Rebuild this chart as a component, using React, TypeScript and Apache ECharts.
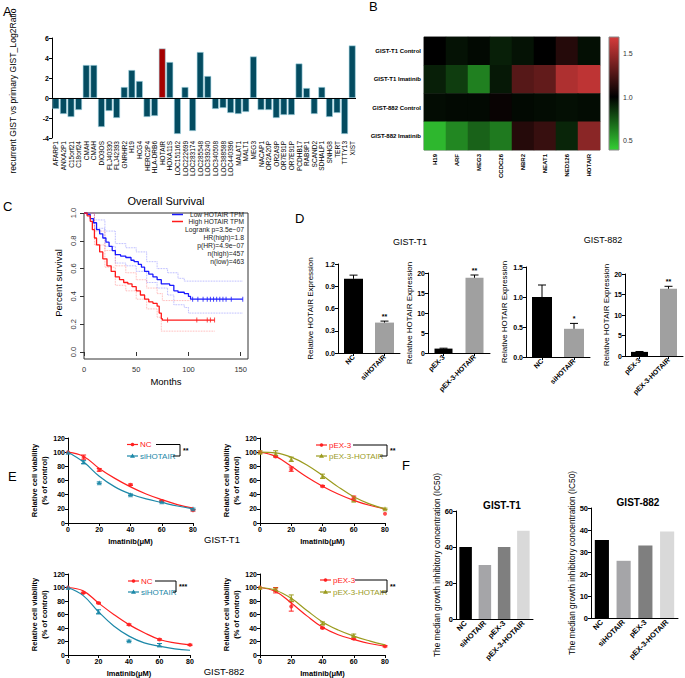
import React, { useEffect, useRef } from 'react';
import * as echarts from 'echarts';

const FONT = '"Liberation Sans", Arial, sans-serif';

// ---------- Panel A ----------
const aGenes = ['AFARP1','ANXA2P1','C15orf21','C18orf24','CMAH','CMAH','DIO3OS','FLJ40330','FLJ42393','GNRHR2','H19','HCG4','HERC2P4','HLA-DRB6','HOTAIR','HOXA11S','LOC151162','LOC222699','LOC283174','LOC285548','LOC339240','LOC340508','LOC388588','LOC440396','MALAT1','MALT1','MEG3','NACAP1','OR2A20P','OR2A9P','OR7E91P','OR7E91P','PCDHB17','RAB9P1','SCAND2','SDHALP1','SNHG8','TERT','TTTY13','XIST'];
const aLog2Ratio = [-1.1,-1.6,-1.9,-1.2,3.3,3.3,-2.9,-1.3,-2.0,1.1,2.8,1.7,-1.9,-1.8,4.95,3.6,-3.6,1.1,-3.3,4.6,2.2,-1.1,-1.0,-1.5,-1.6,-1.4,4.15,-1.2,-1.2,-2.0,-1.7,-1.7,3.45,1.0,-1.6,1.1,-1.9,-1.5,-3.6,5.25];
const aHighlight = 'HOTAIR';

// ---------- Panel B ----------
const bRows = ['GIST-T1 Control','GIST-T1 Imatinib','GIST-882 Control','GIST-882 Imatinib'];
const bCols = ['H19','ARF','MEG3','CCDC26','NBR2','NEAT1','NED126','HOTAIR'];
const bT1Control = [1.0, 0.94, 0.97, 0.9, 0.94, 1.0, 1.12, 0.95];
const bT1Imatinib = [0.9, 0.8, 0.58, 0.92, 1.28, 1.32, 1.57, 1.62];
const b882Control = [0.96, 0.97, 0.97, 1.03, 0.97, 0.96, 0.95, 0.96];
const b882Imatinib = [0.4, 0.56, 0.68, 0.6, 1.12, 1.18, 0.88, 1.45];
const bScaleTicks = ['1.5', '1.0', '0.5'];

// ---------- Panel C ----------
const cLowCurve = [[0,1],[3,0.99],[6,0.96],[9,0.93],[12,0.88],[15,0.85],[18,0.82],[21,0.79],[24,0.76],[27,0.73],[30,0.70],[35,0.69],[40,0.68],[45,0.66],[48,0.65],[52,0.63],[55,0.61],[58,0.58],[62,0.56],[66,0.54],[70,0.52],[74,0.49],[82,0.48],[86,0.44],[90,0.43],[96,0.42],[100,0.40],[102,0.38],[152,0.38]];
const cHighCurve = [[0,1],[3,0.98],[6,0.94],[8,0.88],[10,0.82],[12,0.77],[15,0.72],[18,0.67],[22,0.62],[26,0.58],[30,0.54],[34,0.52],[38,0.50],[42,0.49],[46,0.47],[50,0.44],[54,0.41],[58,0.38],[62,0.36],[66,0.35],[70,0.33],[72,0.28],[74,0.24],[75,0.23],[125,0.23]];
const cLowUpper = [[0,1],[10,0.95],[20,0.87],[30,0.78],[40,0.75],[50,0.72],[60,0.65],[70,0.60],[80,0.57],[90,0.53],[96,0.51],[152,0.51]];
const cLowLower = [[0,1],[10,0.89],[20,0.76],[30,0.64],[40,0.62],[50,0.58],[60,0.50],[70,0.46],[80,0.41],[86,0.34],[96,0.32],[100,0.28],[152,0.28]];
const cHighUpper = [[0,1],[10,0.87],[20,0.73],[30,0.62],[40,0.57],[50,0.52],[60,0.46],[70,0.42],[75,0.37],[102,0.37]];
const cHighLower = [[0,1],[10,0.77],[20,0.61],[30,0.48],[40,0.44],[50,0.38],[60,0.31],[70,0.25],[74,0.15],[125,0.15]];
const cLowCensor = [[104,0.38],[109,0.38],[114,0.38],[118,0.38],[121,0.38],[124,0.38],[127,0.38],[130,0.38],[133,0.38],[136,0.38],[141,0.38],[152,0.38]];
const cHighCensor = [[80,0.23],[108,0.23],[118,0.23],[121,0.23],[125,0.23]];
const cLegend = ['Low HOTAIR TPM', 'High HOTAIR TPM'];
const cStats = ['Logrank p=3.5e\u221207','HR(high)=1.8','p(HR)=4.9e\u221207','n(high)=457','n(low)=463'];

// ---------- Panel D ----------
const dT1KdNames = ['NC','siHOTAIR'];
const dT1KdMean = [1.0, 0.41];
const dT1KdErr = [0.05, 0.02];
const dT1KdStars = ['', '**'];
const dT1OeNames = ['pEX-3','pEX-3-HOTAIR'];
const dT1OeMean = [1.1, 18.8];
const dT1OeErr = [0.1, 0.7];
const dT1OeStars = ['', '**'];
const d882KdNames = ['NC','siHOTAIR'];
const d882KdMean = [1.0, 0.47];
const d882KdErr = [0.2, 0.09];
const d882KdStars = ['', '*'];
const d882OeNames = ['pEX-3','pEX-3-HOTAIR'];
const d882OeMean = [1.0, 16.4];
const d882OeErr = [0.1, 0.6];
const d882OeStars = ['', '**'];

// ---------- Panel E ----------
const eDoses = [0, 10, 20, 40, 60, 80];
const eCurveX = [0, 10, 20, 30, 40, 50, 60, 70, 80];
const e1NcMean = [100, 93, 75, 54, 31, 18];
const e1NcErr = [0, 3, 2, 1, 1, 1];
const e1SiMean = [100, 86, 57, 40, 30, 20];
const e1SiErr = [0, 2, 1, 1, 1, 1];
const e1NcCurve = [100, 94, 77, 63, 51, 41, 33, 26, 21];
const e1SiCurve = [100, 86, 66, 51, 41, 34, 29, 24, 20];
const e2PexMean = [100, 94, 76, 52, 36, 13];
const e2PexErr = [0, 1, 3, 1, 2, 0];
const e2HotMean = [100, 98, 90, 66, 32, 20];
const e2HotErr = [2, 4, 3, 3, 1, 1];
const e2PexCurve = [100, 94, 80, 65, 52, 41, 32, 25, 20];
const e2HotCurve = [100, 99, 93, 82, 67, 51, 37, 27, 20];
const e3NcMean = [100, 92, 77, 45, 23, 15];
const e3NcErr = [0, 1, 1, 1, 1, 1];
const e3SiDoses = [0, 20, 40, 60];
const e3SiMean = [100, 64, 21, 15];
const e3SiErr = [0, 3, 1, 2];
const e3NcCurve = [100, 95, 77, 60, 45, 33, 23, 18, 15];
const e3SiCurve = [100, 88, 64, 43, 28, 18, 13, 9, 7];
const e4PexMean = [100, 96, 72, 40, 24, 13];
const e4PexErr = [0, 4, 7, 1, 1, 1];
const e4HotDoses = [0, 10, 20, 40, 60];
const e4HotMean = [100, 97, 84, 47, 29];
const e4HotErr = [0, 2, 5, 2, 2];
const e4PexCurve = [100, 94, 77, 58, 41, 30, 23, 17, 13];
const e4HotCurve = [100, 96, 84, 66, 49, 37, 28, 21, 15];

// ---------- Panel F ----------
const fGroups = ['NC','siHOTAIR','pEX-3','pEX-3-HOTAIR'];
const fT1IC50 = [40, 30, 40, 49];
const f882IC50 = [35.5, 26, 33, 39.3];

const RED = '#ff2020';
const TEAL = '#1c88a8';
const OLIVE = '#9b9b1e';
const fColors = ['#000000', '#a5a5a8', '#7f7f7f', '#d9d9d9'];
const dColors = ['#000000', '#a0a0a0'];

function zip(xs: number[], ys: number[]) { return xs.map((x, i) => [x, ys[i]]); }

function valAxis(grid: number, min: number, max: number, interval: number, extra: any = {}) {
  const { axisLabel, ...rest } = extra;
  return {
    type: 'value', gridIndex: grid, min, max, interval,
    axisLine: { show: true, onZero: false, lineStyle: { color: '#000', width: 1 } },
    axisTick: { show: true, length: 3, lineStyle: { color: '#000', width: 1 } },
    axisLabel: { fontSize: 7, fontWeight: 'bold', color: '#000', fontFamily: FONT, margin: 3, ...(axisLabel || {}) },
    splitLine: { show: false },
    ...rest,
  };
}
function catAxis(grid: number, data: string[], extra: any = {}) {
  const { axisLabel, ...rest } = extra;
  return {
    type: 'category', gridIndex: grid, data,
    axisLine: { show: true, onZero: false, lineStyle: { color: '#000', width: 1 } },
    axisTick: { show: false },
    axisLabel: { fontSize: 7, fontWeight: 'bold', color: '#000', fontFamily: FONT, margin: 3, interval: 0, rotate: 45, ...(axisLabel || {}) },
    splitLine: { show: false },
    ...rest,
  };
}

function txt(x: number, y: number, text: string, o: any = {}) {
  return {
    type: 'text', x, y, rotation: o.rotation || 0, silent: true,
    style: {
      text, fill: o.color || '#000', fontSize: o.size || 8, fontWeight: o.weight || 'normal',
      fontFamily: FONT, align: o.align || 'center', verticalAlign: o.valign || 'middle',
    },
  };
}
function ln(x1: number, y1: number, x2: number, y2: number, color = '#000', width = 1) {
  return { type: 'line', silent: true, shape: { x1, y1, x2, y2 }, style: { stroke: color, lineWidth: width } };
}

function barErrRender(stars: string[]) {
  return (params: any, api: any) => {
    const i = api.value(0), v = api.value(1), e = api.value(2);
    const b = api.coord([i, v]);
    const t = api.coord([i, v + e]);
    const children: any[] = [
      { type: 'line', shape: { x1: b[0], y1: b[1], x2: t[0], y2: t[1] }, style: { stroke: '#000', lineWidth: 1 } },
      { type: 'line', shape: { x1: t[0] - 4, y1: t[1], x2: t[0] + 4, y2: t[1] }, style: { stroke: '#000', lineWidth: 1 } },
    ];
    const s = stars[params.dataIndex];
    if (s) children.push({ type: 'text', x: t[0], y: t[1] - 1, style: { text: s, fontSize: 7, fontWeight: 'bold', fill: '#000', align: 'center', verticalAlign: 'bottom', fontFamily: FONT } });
    return { type: 'group', children };
  };
}
function ptErrRender(color: string) {
  return (params: any, api: any) => {
    const x = api.value(0), m = api.value(1), e = api.value(2);
    if (!e) return { type: 'group', children: [] };
    const lo = api.coord([x, m - e]);
    const hi = api.coord([x, m + e]);
    return {
      type: 'group', children: [
        { type: 'line', shape: { x1: lo[0], y1: lo[1], x2: hi[0], y2: hi[1] }, style: { stroke: color, lineWidth: 1 } },
        { type: 'line', shape: { x1: lo[0] - 2.5, y1: lo[1], x2: lo[0] + 2.5, y2: lo[1] }, style: { stroke: color, lineWidth: 1 } },
        { type: 'line', shape: { x1: hi[0] - 2.5, y1: hi[1], x2: hi[0] + 2.5, y2: hi[1] }, style: { stroke: color, lineWidth: 1 } },
      ],
    };
  };
}

function buildOption() {
  const grid: any[] = [];
  const xAxis: any[] = [];
  const yAxis: any[] = [];
  const series: any[] = [];
  const graphic: any[] = [];

  // ===== A =====
  grid.push({ left: 52, top: 38, width: 304, height: 100 });
  xAxis.push(catAxis(0, aGenes, { axisLine: { show: false }, axisLabel: { rotate: 90, fontSize: 6.5, fontWeight: 'normal', margin: 3 } }));
  yAxis.push(valAxis(0, -4, 6, 2, { axisLabel: { fontSize: 7 } }));
  series.push({
    type: 'bar', xAxisIndex: 0, yAxisIndex: 0, barCategoryGap: '10%',
    data: aLog2Ratio.map((v, i) => ({ value: v, itemStyle: { color: aGenes[i] === aHighlight ? '#a50000' : '#044c61' } })),
    itemStyle: { borderColor: '#a6d6e6', borderWidth: 0.6 },
    markLine: { silent: true, symbol: 'none', label: { show: false }, lineStyle: { color: '#000', width: 1, type: 'solid' }, data: [{ yAxis: 0 }] },
  });
  graphic.push(txt(13, 91, 'recurrent GIST vs primary GIST_Log2Ratio', { size: 8.6, rotation: Math.PI / 2 }));
  graphic.push(txt(3, 11, 'A', { size: 13, align: 'left' }));

  // ===== B =====
  grid.push({ left: 424, top: 37, width: 176, height: 113 });
  xAxis.push(catAxis(1, bCols, { axisLine: { show: false }, axisLabel: { rotate: 90, fontSize: 6, margin: 4 } }));
  yAxis.push({
    type: 'category', gridIndex: 1, data: bRows, inverse: true,
    axisLine: { show: false }, axisTick: { show: false }, splitLine: { show: false },
    axisLabel: { fontSize: 6, fontWeight: 'bold', color: '#000', fontFamily: FONT, margin: 3 },
  });
  const bAll = [bT1Control, bT1Imatinib, b882Control, b882Imatinib];
  const hmData: any[] = [];
  bAll.forEach((row, r) => row.forEach((v, c) => hmData.push([c, r, v])));
  series.push({ type: 'heatmap', xAxisIndex: 1, yAxisIndex: 1, data: hmData, itemStyle: { borderWidth: 0 } });
  graphic.push({ type: 'rect', silent: true, shape: { x: 424, y: 37, width: 176, height: 113 }, style: { fill: 'none', stroke: '#7a7a7a', lineWidth: 1 } });
  graphic.push({
    type: 'rect', silent: true, shape: { x: 609, y: 37, width: 10, height: 113 },
    style: {
      stroke: '#888', lineWidth: 1,
      fill: { type: 'linear', x: 0, y: 0, x2: 0, y2: 1, colorStops: [{ offset: 0, color: '#d63b3b' }, { offset: 0.53, color: '#000' }, { offset: 1, color: '#34d034' }] },
    },
  });
  [53, 97, 140].forEach((y, i) => graphic.push(txt(623, y, bScaleTicks[i], { size: 7, align: 'left', color: '#333' })));
  graphic.push(txt(369, 6, 'B', { size: 13, align: 'left' }));

  // ===== C =====
  grid.push({ left: 84, top: 213, width: 164, height: 139 });
  xAxis.push({
    type: 'value', gridIndex: 2, min: 0, max: 157, interval: 50, offset: 7,
    axisLine: { show: false }, splitLine: { show: false },
    axisTick: { show: true, length: 4, lineStyle: { color: '#333' } },
    axisLabel: { fontSize: 7.5, color: '#333', fontFamily: FONT, margin: 6, showMaxLabel: false },
  });
  yAxis.push({
    type: 'value', gridIndex: 2, min: 0, max: 1, interval: 0.2,
    axisLine: { show: false }, splitLine: { show: false },
    axisTick: { show: true, length: 4, lineStyle: { color: '#333' } },
    axisLabel: { fontSize: 7.5, color: '#333', fontFamily: FONT, margin: 7, rotate: 90, formatter: (v: number) => v.toFixed(1) },
  });
  const cLine = (data: number[][], color: string, width: number, type: string) => ({
    type: 'line', xAxisIndex: 2, yAxisIndex: 2, step: 'end', showSymbol: false, data,
    lineStyle: { color, width, type }, silent: true,
  });
  series.push(cLine(cLowUpper, 'rgba(110,110,255,0.7)', 0.8, 'dotted'));
  series.push(cLine(cLowLower, 'rgba(110,110,255,0.7)', 0.8, 'dotted'));
  series.push(cLine(cHighUpper, 'rgba(255,110,110,0.7)', 0.8, 'dotted'));
  series.push(cLine(cHighLower, 'rgba(255,110,110,0.7)', 0.8, 'dotted'));
  series.push(cLine(cLowCurve, '#1a1aff', 1.3, 'solid'));
  series.push(cLine(cHighCurve, '#ff1a1a', 1.3, 'solid'));
  series.push({ type: 'scatter', xAxisIndex: 2, yAxisIndex: 2, data: cLowCensor, symbol: 'rect', symbolSize: [1, 5], itemStyle: { color: '#1a1aff' }, silent: true });
  series.push({ type: 'scatter', xAxisIndex: 2, yAxisIndex: 2, data: cHighCensor, symbol: 'rect', symbolSize: [1, 5], itemStyle: { color: '#ff1a1a' }, silent: true });
  graphic.push({ type: 'rect', silent: true, shape: { x: 84, y: 213, width: 164, height: 146 }, style: { fill: 'none', stroke: '#333', lineWidth: 1 } });
  graphic.push(txt(166, 201, 'Overall Survival', { size: 11 }));
  graphic.push(txt(58, 283, 'Percent survival', { size: 9.5, rotation: Math.PI / 2 }));
  graphic.push(txt(166, 381, 'Months', { size: 9.5 }));
  graphic.push(ln(172, 214.5, 183, 214.5, '#1a1aff', 1.5));
  graphic.push(ln(172, 221.5, 183, 221.5, '#ff1a1a', 1.5));
  graphic.push(txt(244, 214.5, cLegend[0], { size: 6.6, align: 'right', color: '#222' }));
  graphic.push(txt(244, 221.5, cLegend[1], { size: 6.6, align: 'right', color: '#222' }));
  cStats.forEach((s, i) => graphic.push(txt(244, 229.5 + i * 8, s, { size: 6.8, align: 'right', color: '#222' })));
  graphic.push(txt(3, 206, 'C', { size: 13, align: 'left' }));

  // ===== D =====
  const dPanels = [
    { left: 338, top: 264, width: 62, height: 89, max: 1.2, interval: 0.3, names: dT1KdNames, mean: dT1KdMean, err: dT1KdErr, stars: dT1KdStars, bw: 19, gap: 24, dec: 1 },
    { left: 428, top: 273, width: 62, height: 80, max: 20, interval: 5, names: dT1OeNames, mean: dT1OeMean, err: dT1OeErr, stars: dT1OeStars, bw: 18, gap: 11, dec: 0 },
    { left: 526, top: 267, width: 64, height: 90, max: 1.5, interval: 0.5, names: d882KdNames, mean: d882KdMean, err: d882KdErr, stars: d882KdStars, bw: 20, gap: 18, dec: 1 },
    { left: 625, top: 274, width: 58, height: 82, max: 20, interval: 5, names: d882OeNames, mean: d882OeMean, err: d882OeErr, stars: d882OeStars, bw: 17, gap: 11, dec: 0 },
  ];
  dPanels.forEach((p, k) => {
    const g = 3 + k;
    grid.push({ left: p.left, top: p.top, width: p.width, height: p.height });
    xAxis.push(catAxis(g, p.names, { axisTick: { show: true, length: 3, alignWithLabel: true, lineStyle: { color: '#000' } } }));
    yAxis.push(valAxis(g, 0, p.max, p.interval, {
      name: 'Relative HOTAIR Expression', nameLocation: 'middle', nameGap: p.gap,
      nameTextStyle: { fontSize: 8, color: '#000', fontFamily: FONT },
      axisLabel: { formatter: (v: number) => v.toFixed(p.dec) },
    }));
    series.push({
      type: 'bar', xAxisIndex: g, yAxisIndex: g, barWidth: p.bw,
      data: p.mean.map((v, i) => ({ value: v, itemStyle: { color: dColors[i] } })),
    });
    series.push({
      type: 'custom', xAxisIndex: g, yAxisIndex: g, renderItem: barErrRender(p.stars),
      data: p.mean.map((v, i) => [i, v, p.err[i]]), silent: true, z: 5,
    });
  });
  graphic.push(txt(410, 242, 'GIST-T1', { size: 9 }));
  graphic.push(txt(603, 240, 'GIST-882', { size: 9 }));
  graphic.push(txt(295, 218, 'D', { size: 13, align: 'left' }));

  // ===== E =====
  const ePanels = [
    { left: 68, top: 438, width: 125, height: 85, a: { name: 'NC', color: RED, sym: 'circle', doses: eDoses, mean: e1NcMean, err: e1NcErr, curve: e1NcCurve }, b: { name: 'siHOTAIR', color: TEAL, sym: 'triangle', doses: eDoses, mean: e1SiMean, err: e1SiErr, curve: e1SiCurve } },
    { left: 260, top: 438, width: 125, height: 85, a: { name: 'pEX-3', color: RED, sym: 'circle', doses: eDoses, mean: e2PexMean, err: e2PexErr, curve: e2PexCurve }, b: { name: 'pEX-3-HOTAIR', color: OLIVE, sym: 'triangle', doses: eDoses, mean: e2HotMean, err: e2HotErr, curve: e2HotCurve } },
    { left: 68, top: 574, width: 122, height: 83, a: { name: 'NC', color: RED, sym: 'circle', doses: eDoses, mean: e3NcMean, err: e3NcErr, curve: e3NcCurve }, b: { name: 'siHOTAIR', color: TEAL, sym: 'triangle', doses: e3SiDoses, mean: e3SiMean, err: e3SiErr, curve: e3SiCurve } },
    { left: 260, top: 574, width: 125, height: 83, a: { name: 'pEX-3', color: RED, sym: 'circle', doses: eDoses, mean: e4PexMean, err: e4PexErr, curve: e4PexCurve }, b: { name: 'pEX-3-HOTAIR', color: OLIVE, sym: 'triangle', doses: e4HotDoses, mean: e4HotMean, err: e4HotErr, curve: e4HotCurve } },
  ];
  ePanels.forEach((p, k) => {
    const g = 7 + k;
    grid.push({ left: p.left, top: p.top, width: p.width, height: p.height });
    xAxis.push(valAxis(g, 0, 80, 20, {
      name: 'Imatinib(\u03bcM)', nameLocation: 'middle', nameGap: 14,
      nameTextStyle: { fontSize: 7.5, fontWeight: 'bold', color: '#000', fontFamily: FONT },
    }));
    yAxis.push(valAxis(g, 0, 120, 20, {
      name: 'Relative cell viability\n(% of control)', nameLocation: 'middle', nameGap: 18,
      nameTextStyle: { fontSize: 7.5, fontWeight: 'bold', color: '#000', fontFamily: FONT, lineHeight: 10 },
    }));
    [p.a, p.b].forEach((s) => {
      series.push({ type: 'line', xAxisIndex: g, yAxisIndex: g, smooth: 0.4, showSymbol: false, data: zip(eCurveX, s.curve), lineStyle: { color: s.color, width: 1.2 }, silent: true });
      series.push({ type: 'custom', xAxisIndex: g, yAxisIndex: g, renderItem: ptErrRender(s.color), data: s.doses.map((d, i) => [d, s.mean[i], s.err[i]]), silent: true });
      series.push({ type: 'scatter', xAxisIndex: g, yAxisIndex: g, symbol: s.sym, symbolSize: s.sym === 'circle' ? 4 : 5, data: zip(s.doses, s.mean), itemStyle: { color: s.color }, silent: true });
    });
  });
  const eLegends = [
    { lx: 127, ty: 444.5, by: 456, a: 'NC', b: 'siHOTAIR', ca: RED, cb: TEAL, br0: 156, br1: 180, brb: 173, sig: '**' },
    { lx: 316, ty: 445, by: 456, a: 'pEX-3', b: 'pEX-3-HOTAIR', ca: RED, cb: OLIVE, br0: 353, br1: 387, brb: 380, sig: '**' },
    { lx: 128, ty: 581, by: 592, a: 'NC', b: 'siHOTAIR', ca: RED, cb: TEAL, br0: 155, br1: 176, brb: 173, sig: '***' },
    { lx: 320, ty: 580, by: 592, a: 'pEX-3', b: 'pEX-3-HOTAIR', ca: RED, cb: OLIVE, br0: 355, br1: 387, brb: 381, sig: '**' },
  ];
  eLegends.forEach((l) => {
    graphic.push(ln(l.lx, l.ty, l.lx + 11, l.ty, l.ca, 1.2));
    graphic.push({ type: 'circle', silent: true, shape: { cx: l.lx + 5.5, cy: l.ty, r: 1.8 }, style: { fill: l.ca } });
    graphic.push(txt(l.lx + 13, l.ty, l.a, { size: 8, align: 'left', color: l.ca }));
    graphic.push(ln(l.lx, l.by, l.lx + 11, l.by, l.cb, 1.2));
    graphic.push({ type: 'polygon', silent: true, shape: { points: [[l.lx + 5.5, l.by - 2.5], [l.lx + 8, l.by + 1.8], [l.lx + 3, l.by + 1.8]] }, style: { fill: l.cb } });
    graphic.push(txt(l.lx + 13, l.by, l.b, { size: 8, align: 'left', color: l.cb }));
    graphic.push({ type: 'polyline', silent: true, shape: { points: [[l.br0, l.ty], [l.br1, l.ty], [l.br1, l.by], [l.brb, l.by]] }, style: { stroke: '#000', lineWidth: 1, fill: 'none' } });
    graphic.push(txt(l.br1 + 3, (l.ty + l.by) / 2, l.sig, { size: 7, align: 'left', weight: 'bold' }));
  });
  graphic.push(txt(222, 539, 'GIST-T1', { size: 9.5 }));
  graphic.push(txt(224, 671, 'GIST-882', { size: 9.5 }));
  graphic.push(txt(8, 476, 'E', { size: 13, align: 'left' }));

  // ===== F =====
  const fPanels = [
    { left: 456, top: 511, width: 77, height: 108, max: 60, interval: 20, vals: fT1IC50, title: 'GIST-T1', tx: 502, ty: 505 },
    { left: 591, top: 508, width: 87, height: 110, max: 50, interval: 10, vals: f882IC50, title: 'GIST-882', tx: 638, ty: 502 },
  ];
  fPanels.forEach((p, k) => {
    const g = 11 + k;
    grid.push({ left: p.left, top: p.top, width: p.width, height: p.height });
    xAxis.push(catAxis(g, fGroups, { axisLabel: { fontSize: 7.5 } }));
    yAxis.push(valAxis(g, 0, p.max, p.interval, {
      name: 'The median growth inhibitory concentration (IC50)', nameLocation: 'middle', nameGap: 14,
      nameTextStyle: { fontSize: 8.3, color: '#000', fontFamily: FONT },
      axisLabel: { fontSize: 7.5 },
    }));
    series.push({
      type: 'bar', xAxisIndex: g, yAxisIndex: g, barCategoryGap: '35%',
      data: p.vals.map((v, i) => ({ value: v, itemStyle: { color: fColors[i] } })),
    });
    graphic.push(txt(p.tx, p.ty, p.title, { size: 10, weight: 'bold' }));
  });
  graphic.push(txt(402, 465, 'F', { size: 13, align: 'left' }));

  return {
    animation: false,
    backgroundColor: '#fff',
    textStyle: { fontFamily: FONT },
    grid, xAxis, yAxis, series, graphic,
    visualMap: {
      type: 'continuous', show: false, seriesIndex: 1, min: 0.3, max: 1.7, dimension: 2,
      inRange: { color: ['#36d636', '#000000', '#d63b3b'] },
    },
  };
}

export default function App() {
  const ref = useRef<HTMLDivElement>(null);
  useEffect(() => {
    if (!ref.current) return;
    const chart = echarts.init(ref.current, undefined, { renderer: 'svg' });
    chart.setOption(buildOption() as any);
    return () => chart.dispose();
  }, []);
  return <div ref={ref} style={{ position: 'absolute', left: 0, top: 0, width: 685, height: 678 }} />;
}
